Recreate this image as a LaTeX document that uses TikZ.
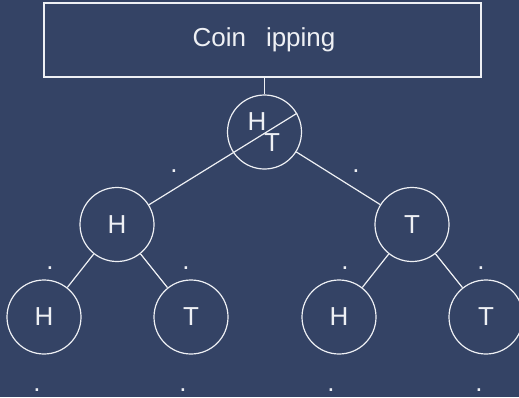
\documentclass[tikz,border=0pt]{standalone}
\usepackage{fontspec}
\setmainfont{Liberation Sans}
\definecolor{bgblue}{RGB}{52,67,101}
\definecolor{ink}{RGB}{238,240,244}
\begin{document}
\begin{tikzpicture}[x=1pt,y=-1pt,
  every node/.style={text=ink,font=\fontsize{26}{30}\selectfont},
  edge/.style={draw=ink,line width=1.2pt},
  circ/.style={circle,draw=ink,line width=1.2pt,minimum size=74pt,inner sep=0pt},
  titlebox/.style={rectangle,draw=ink,line width=1.5pt,minimum width=437pt,minimum height=74pt,inner sep=0pt},
  dotmark/.style={inner sep=0pt}]
  % background and page size
  \fill[bgblue] (0,0) rectangle (519,397);
  \useasboundingbox (0,0) rectangle (519,397);

  % title
  \node[titlebox] (title) at (262.5,40) {};
  \node[inner sep=0pt] (titletext) at (264,40) {Coin\hspace{20pt}ipping};

  % root node with split H / T
  \node[circ] (root) at (264.5,132) {};
  \node[inner sep=0pt] (rh) at (257,122) {H};
  \node[inner sep=0pt] (rt) at (272,143) {T};

  % second level
  \node[circ] (l) at (117,224.5) {H};
  \node[circ] (r) at (412,224.5) {T};

  % third level
  \node[circ] (ll) at (44,317) {H};
  \node[circ] (lr) at (191,317) {T};
  \node[circ] (rl) at (339,317) {H};
  \node[circ] (rr) at (486,317) {T};

  % connectors
  \draw[edge] (root.north) -- (root.north |- title.south);
  \draw[edge] (l) -- (root.30);
  \draw[edge] (root) -- (r);
  \draw[edge] (l) -- (ll);
  \draw[edge] (l) -- (lr);
  \draw[edge] (r) -- (rl);
  \draw[edge] (r) -- (rr);

  % small marks beside the branches
  \node[dotmark] (m1) at (174,171) {.};
  \node[dotmark] (m2) at (356,171) {.};
  \node[dotmark] (m3) at (50,268) {.};
  \node[dotmark] (m4) at (186,268) {.};
  \node[dotmark] (m5) at (345,268) {.};
  \node[dotmark] (m6) at (481,268) {.};
  \node[dotmark] (m7) at (37,390) {.};
  \node[dotmark] (m8) at (183,390) {.};
  \node[dotmark] (m9) at (331,390) {.};
  \node[dotmark] (m10) at (479,390) {.};
\end{tikzpicture}
\end{document}
